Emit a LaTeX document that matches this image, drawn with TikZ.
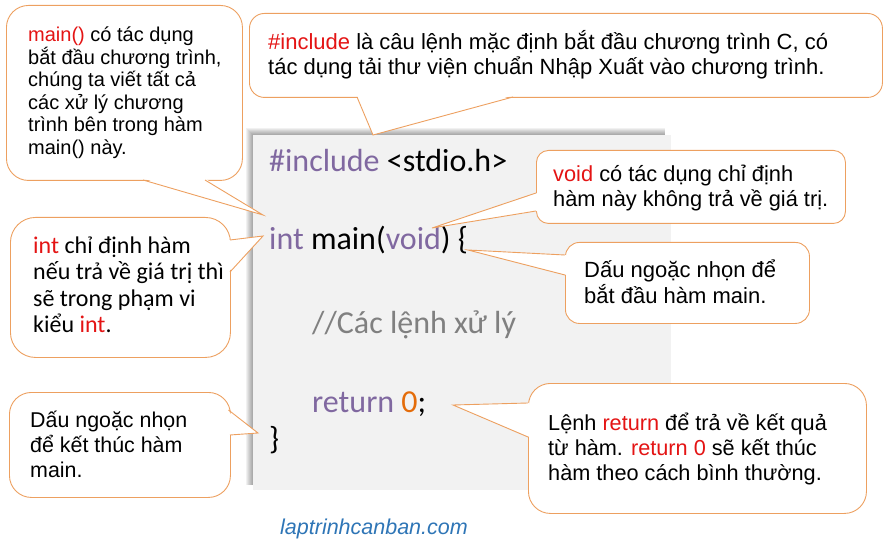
\documentclass[tikz,border=0pt]{standalone}
\usepackage{fontspec}
\setmainfont{Liberation Sans}
\newfontfamily\calfont{Carlito}
\usetikzlibrary{calc}
\definecolor{cborder}{RGB}{237,160,96}
\definecolor{cred}{RGB}{228,20,20}
\definecolor{cpurple}{RGB}{128,104,160}
\definecolor{cgray}{RGB}{128,128,128}
\definecolor{corange}{RGB}{228,108,10}
\definecolor{cbg}{RGB}{242,242,242}
\definecolor{cblue}{RGB}{46,117,182}
\newcommand\redw[1]{\textcolor{cred}{#1}}
\tikzset{
  cbox/.style={draw=cborder, fill=white, line width=0.9pt, rounded corners=#1, inner sep=0pt, anchor=north west},
  cbox/.default=20pt,
  tailfill/.style={fill=white},
  tailline/.style={draw=cborder, line width=0.9pt, line join=miter},
  txt/.style={inner sep=0pt, anchor=base west, align=left, font=\fontsize{21.8}{25}\selectfont},
  codetxt/.style={inner sep=0pt, anchor=base west, font=\calfont\fontsize{32}{38}\selectfont},
}
\begin{document}
\begin{tikzpicture}[x=1pt,y=-1pt]
\useasboundingbox (0,0) rectangle (894,545);
% code box with shadow
\foreach \k in {1,...,7}{
  \fill[black, opacity=0.055] (253-\k,135-\k) rectangle (665,485);
}
\node[fill=cbg, inner sep=0pt, minimum width=418pt, minimum height=355pt, anchor=north west] (code) at (253,135) {};
% code text
\node[codetxt] (l1) at (269,172) {\textcolor{cpurple}{\#include} <stdio.h>};
\node[codetxt] (l2) at (269,250) {\textcolor{cpurple}{int} main(\textcolor{cpurple}{void}) \{};
\node[codetxt, text=cgray] (l3) at (312,333) {//Các lệnh xử lý};
\node[codetxt] (l4) at (312,412) {\textcolor{cpurple}{return} \textcolor{corange}{0};};
\node[codetxt] (l5) at (269,449) {\}};
% tips
\coordinate (t1) at (263,215);
\coordinate (t2) at (373,135);
\coordinate (t3) at (432,228);
\coordinate (t4) at (468,250);
\coordinate (t5) at (263,236);
\coordinate (t6) at (258,433);
\coordinate (t7) at (453,405);
% callout 1: main()
\node[cbox=22pt, minimum width=236pt, minimum height=175pt] (b1) at (6,5) {};
\fill[tailfill] (143,178.5) -- (t1) -- (205,178.5) -- cycle;
\draw[tailline] (143,180) -- (t1) -- (205,180);
\node[txt, font=\fontsize{20}{22.5}\selectfont] (x1) at (28,154.5) {\redw{main()} có tác dụng\\bắt đầu chương trình,\\chúng ta viết tất cả\\các xử lý chương\\trình bên trong hàm\\main() này.};
% callout 2: include
\node[cbox=15pt, minimum width=633pt, minimum height=84pt] (b2) at (249,13) {};
\fill[tailfill] (357,95.5) -- (t2) -- (513,95.5) -- cycle;
\draw[tailline] (357,97) -- (t2) -- (513,97);
\node[txt, font=\fontsize{22}{25}\selectfont] (x2) at (268,75) {\redw{\#include} là câu lệnh mặc định bắt đầu chương trình C, có\\tác dụng tải thư viện chuẩn Nhập Xuất vào chương trình.};
% callout 3: void
\node[cbox=12pt, minimum width=309pt, minimum height=73pt] (b3) at (536,150) {};
\fill[tailfill] (537.5,193) -- (t3) -- (537.5,211) -- cycle;
\draw[tailline] (536,193) -- (t3) -- (536,211);
\node[txt] (x3) at (553,207) {\redw{void} có tác dụng chỉ định\\hàm này không trả về giá trị.};
% callout 4: begin brace
\node[cbox=14pt, minimum width=244pt, minimum height=81pt] (b4) at (565,242) {};
\fill[tailfill] (566.5,255) -- (t4) -- (566.5,275) -- cycle;
\draw[tailline] (565,255) -- (t4) -- (565,275);
\node[txt, font=\fontsize{22}{25}\selectfont] (x4) at (584,303) {Dấu ngoặc nhọn để\\bắt đầu hàm main.};
% callout 5: int
\node[cbox=25pt, minimum width=220pt, minimum height=140pt] (b5) at (10,217) {};
\fill[tailfill] (228.5,240) -- (t5) -- (228.5,272) -- cycle;
\draw[tailline] (230,240) -- (t5) -- (230,272);
\node[txt, font=\calfont\fontsize{24}{26.5}\selectfont] (x5) at (33,332.5) {\redw{int} chỉ định hàm\\nếu trả về giá trị thì\\sẽ trong phạm vi\\kiểu \redw{int}.};
% callout 6: end brace
\node[cbox=22pt, minimum width=221pt, minimum height=105pt] (b6) at (9,392) {};
\fill[tailfill] (227,411) -- (t6) -- (228.5,435) -- cycle;
\draw[tailline] (228.5,410) -- (t6) -- (230,435);
\node[txt, font=\fontsize{21.4}{25}\selectfont] (x6) at (30,477) {Dấu ngoặc nhọn\\để kết thúc hàm\\main.};
% callout 7: return
\node[cbox=22pt, minimum width=338pt, minimum height=130pt] (b7) at (528,383) {};
\fill[tailfill] (529.5,403) -- (t7) -- (529.5,437) -- cycle;
\draw[tailline] (528,403) -- (t7) -- (528,437);
\node[txt, font=\fontsize{21.7}{25}\selectfont] (x7) at (548,480) {Lệnh \redw{return} để trả về kết quả\\từ hàm. \redw{return 0} sẽ kết thúc\\hàm theo cách bình thường.};
% footer
\node[inner sep=0pt, anchor=base, text=cblue, font=\fontsize{21.5}{25}\selectfont\itshape] (foot) at (374,534) {laptrinhcanban.com};
\end{tikzpicture}
\end{document}
